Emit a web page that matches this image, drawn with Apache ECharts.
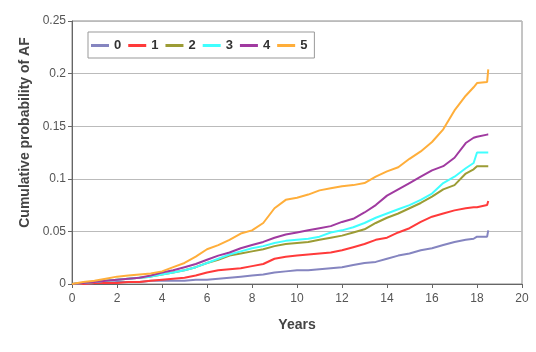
<!DOCTYPE html>
<html style="height: 100%">
    <head>
        <title>Cumulative probability of AF</title>
        <meta charset="utf-8">
    </head>
    <body style="height: 100%; margin: 0">
        <div id="container" style="width: 536px; height: 352px"></div>

        <script type="text/javascript" src="https://cdn.jsdelivr.net/npm/echarts@6/dist/echarts.min.js"></script>
        <script type="text/javascript">
            // follow-up years (half-year readings, plus the points around the last jumps)
            var years = [0, 0.5, 1, 1.5, 2, 2.5, 3, 3.5, 4, 4.5, 5, 5.5, 6, 6.5, 7, 7.5, 8, 8.5, 9, 9.5,
                10, 10.5, 11, 11.5, 12, 12.5, 13, 13.5, 14, 14.5, 15, 15.5, 16, 16.5, 17, 17.5, 17.85, 18, 18.45, 18.5];

            var groupNames = ['0', '1', '2', '3', '4', '5'];
            var groupColors = ['#8585c0', '#ff3a3a', '#9c9c35', '#40ffff', '#a03aa0', '#ffae3a'];

            var af0 = [0, 0, 0.001, 0.001, 0.002, 0.002, 0.002, 0.003, 0.003, 0.003, 0.003, 0.004, 0.004, 0.005, 0.006, 0.007, 0.008, 0.009, 0.011, 0.012,
                0.013, 0.013, 0.014, 0.015, 0.016, 0.018, 0.020, 0.021, 0.024, 0.027, 0.029, 0.032, 0.034, 0.037, 0.040, 0.042, 0.043, 0.045, 0.045, 0.051];
            var af1 = [0, 0, 0.001, 0.001, 0.001, 0.002, 0.002, 0.003, 0.004, 0.005, 0.006, 0.008, 0.011, 0.013, 0.014, 0.015, 0.017, 0.019, 0.024, 0.026,
                0.027, 0.028, 0.029, 0.030, 0.032, 0.035, 0.038, 0.042, 0.044, 0.049, 0.053, 0.059, 0.064, 0.067, 0.070, 0.072, 0.073, 0.073, 0.075, 0.079];
            var af2 = [0, 0.001, 0.002, 0.003, 0.004, 0.005, 0.006, 0.007, 0.009, 0.011, 0.013, 0.016, 0.020, 0.023, 0.027, 0.029, 0.031, 0.033, 0.036, 0.038,
                0.039, 0.040, 0.042, 0.044, 0.046, 0.049, 0.052, 0.058, 0.063, 0.067, 0.072, 0.077, 0.083, 0.090, 0.094, 0.105, 0.109, 0.112, 0.112, 0.112];
            var af3 = [0, 0.001, 0.002, 0.003, 0.004, 0.005, 0.006, 0.007, 0.009, 0.011, 0.013, 0.016, 0.020, 0.024, 0.028, 0.031, 0.034, 0.036, 0.039, 0.041,
                0.042, 0.043, 0.045, 0.049, 0.051, 0.054, 0.058, 0.063, 0.067, 0.071, 0.075, 0.080, 0.086, 0.096, 0.102, 0.110, 0.115, 0.125, 0.125, 0.125];
            var af4 = [0, 0.001, 0.002, 0.003, 0.004, 0.005, 0.006, 0.008, 0.011, 0.013, 0.016, 0.019, 0.023, 0.027, 0.030, 0.034, 0.037, 0.040, 0.044, 0.047,
                0.049, 0.051, 0.053, 0.055, 0.059, 0.062, 0.068, 0.075, 0.084, 0.090, 0.096, 0.102, 0.108, 0.112, 0.120, 0.134, 0.139, 0.140, 0.142, 0.142];
            var af5 = [0, 0.002, 0.003, 0.005, 0.007, 0.008, 0.009, 0.010, 0.012, 0.016, 0.020, 0.026, 0.033, 0.037, 0.042, 0.048, 0.051, 0.058, 0.072, 0.080,
                0.082, 0.085, 0.089, 0.091, 0.093, 0.094, 0.096, 0.102, 0.107, 0.111, 0.119, 0.126, 0.135, 0.147, 0.165, 0.179, 0.187, 0.191, 0.192, 0.204];

            var allSeries = [af0, af1, af2, af3, af4, af5];

            var dom = document.getElementById("container");
            var myChart = echarts.init(dom);

            var series = allSeries.map(function (vals, i) {
                return {
                    name: groupNames[i],
                    type: 'line',
                    showSymbol: false,
                    lineStyle: { width: 2, color: groupColors[i] },
                    itemStyle: { color: groupColors[i] },
                    data: years.map(function (y, k) { return [y, vals[k]]; })
                };
            });

            var option = {
                animation: false,
                textStyle: { fontFamily: 'Liberation Sans, Arial, sans-serif' },
                grid: {
                    left: 72, right: 14, top: 21, bottom: 68,
                    show: true, borderColor: '#8a8a8a', borderWidth: 1
                },
                legend: {
                    left: 88, top: 32,
                    padding: [7, 7, 6, 3],
                    borderColor: '#999',
                    borderWidth: 1,
                    itemWidth: 18,
                    itemHeight: 3,
                    itemGap: 7,
                    icon: 'rect',
                    textStyle: { fontSize: 13, fontWeight: 'bold', color: '#333' },
                    data: groupNames
                },
                xAxis: {
                    type: 'value',
                    min: 0, max: 20, interval: 2,
                    name: 'Years',
                    nameLocation: 'middle',
                    nameGap: 34,
                    nameTextStyle: { fontSize: 14, fontWeight: 'bold', color: '#444' },
                    axisLine: { lineStyle: { color: '#666' } },
                    axisTick: { length: 4, lineStyle: { color: '#666' } },
                    axisLabel: { fontSize: 12, color: '#555', margin: 9 },
                    splitLine: { show: false }
                },
                yAxis: {
                    type: 'value',
                    min: 0, max: 0.25, interval: 0.05,
                    name: 'Cumulative probability of AF',
                    nameLocation: 'middle',
                    nameGap: 40,
                    nameTextStyle: { fontSize: 14, fontWeight: 'bold', color: '#444', padding: [0, 0, 0, 40] },
                    axisLine: { show: true, lineStyle: { color: '#666' } },
                    axisTick: { show: true, length: 4, lineStyle: { color: '#666' } },
                    axisLabel: { fontSize: 12, color: '#555', margin: 6 },
                    splitLine: { lineStyle: { color: '#bbb' } }
                },
                series: series
            };

            myChart.setOption(option);
        </script>
    </body>
</html>
